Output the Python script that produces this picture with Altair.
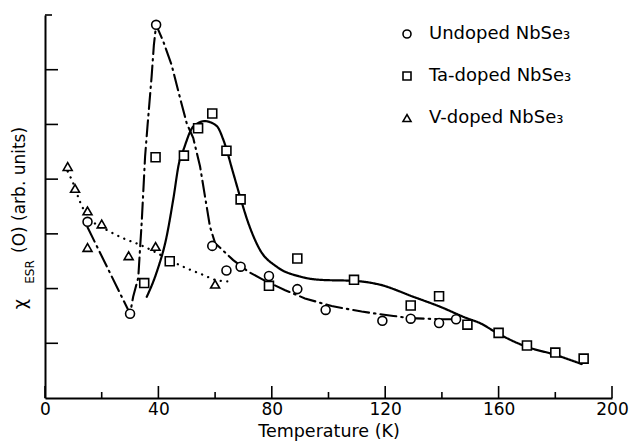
import altair as alt
import pandas as pd

FONT = "DejaVu Sans"

# Measured ESR susceptibility (arbitrary units) vs temperature (K)
undoped_T = [15, 30, 39.2, 59, 64, 69, 79, 89, 99, 119, 129, 139, 145]
undoped_X = [3.22, 1.54, 6.82, 2.78, 2.33, 2.40, 2.23, 1.99, 1.61, 1.41, 1.45, 1.37, 1.44]

ta_T = [35, 39, 44, 49, 54, 59, 64, 69, 79, 89, 109, 129, 139, 149, 160, 170, 180, 190]
ta_X = [2.10, 4.40, 2.50, 4.43, 4.93, 5.20, 4.52, 3.63, 2.05, 2.55, 2.16, 1.69, 1.86,
        1.34, 1.19, 0.96, 0.83, 0.72]

v_T = [8, 10.6, 15, 15, 20, 29.5, 39, 60]
v_X = [4.23, 3.83, 3.42, 2.75, 3.18, 2.60, 2.77, 2.08]

# Hand-drawn guide curves through each data set
undoped_fit_T = [15, 30, 31.1, 32.9, 33.5, 34.1, 34.7, 35.3, 36.2, 37.6, 38.4, 39.2,
                 41.7, 44.7, 47.6, 50, 52.3, 54.7, 58.2, 60, 66.4, 71.7, 77, 84.7,
                 91.7, 101.1, 111.7, 117, 122.9, 128.7, 139.3, 144.6]
undoped_fit_X = [3.12, 1.54, 1.85, 2.20, 2.71, 3.20, 3.80, 4.41, 5.00, 5.87, 6.45, 6.82,
                 6.52, 6.08, 5.49, 5.02, 4.75, 4.23, 3.13, 2.83, 2.52, 2.31, 2.16, 1.97,
                 1.82, 1.68, 1.58, 1.54, 1.50, 1.46, 1.44, 1.44]

ta_fit_T = [35.9, 39.4, 42.9, 45.3, 47.3, 48.8, 52.3, 56.4, 60.6, 62.9, 66.4, 68.8,
            71.7, 75.8, 81.7, 89.9, 97, 109.3, 118.2, 129.9, 139.3, 148.7, 153.4,
            159.7, 169.7, 179.9, 189.3]
ta_fit_X = [1.85, 2.30, 2.95, 3.65, 4.30, 4.53, 4.96, 5.06, 4.97, 4.72, 4.11, 3.68,
            3.20, 2.71, 2.40, 2.22, 2.16, 2.14, 2.07, 1.85, 1.67, 1.46, 1.37,
            1.18, 0.94, 0.79, 0.62]

v_fit_T = [8, 10, 12.3, 14.7, 17.6, 21.8, 27.6, 33.5, 38.8, 44, 50, 55.8, 60, 64.3]
v_fit_X = [4.14, 3.92, 3.59, 3.35, 3.19, 3.07, 2.92, 2.80, 2.67, 2.52, 2.37, 2.25, 2.16, 2.13]

series_names = ["Undoped NbSe₃", "Ta-doped NbSe₃", "V-doped NbSe₃"]
series_shapes = ["circle", "square", "triangle-up"]

# Axis tick positions
x_labels = [0, 40, 80, 120, 160, 200]
x_minor = [20, 60, 100, 140, 180]
y_major = [1, 2, 3, 4, 5, 6]
y_top = [7]

points = pd.concat([
    pd.DataFrame({"T": undoped_T, "X": undoped_X, "series": series_names[0]}),
    pd.DataFrame({"T": ta_T, "X": ta_X, "series": series_names[1]}),
    pd.DataFrame({"T": v_T, "X": v_X, "series": series_names[2]}),
])

x_scale = alt.Scale(domain=[0, 200], nice=False, zero=False)
y_scale = alt.Scale(domain=[0, 7], nice=False, zero=False)
shape_scale = alt.Scale(domain=series_names, range=series_shapes)

x_enc = alt.X("T:Q", scale=x_scale,
              axis=alt.Axis(values=x_labels, title="Temperature (K)", grid=False,
                            ticks=False, tickSize=0, labelPadding=3, labelFlush=False,
                            labelFont=FONT, labelFontSize=17, labelColor="black",
                            titleFont=FONT, titleFontSize=17.5, titleFontWeight="normal",
                            titleColor="black", titlePadding=5,
                            domainColor="black", domainWidth=2))
y_enc = alt.Y("X:Q", scale=y_scale,
              axis=alt.Axis(labels=False, ticks=False, grid=False, title=None,
                            domainColor="black", domainWidth=2))


def curve(T, X, dash, interp, width=2.0):
    df = pd.DataFrame({"T": T, "X": X})
    return alt.Chart(df).mark_line(
        color="black", strokeWidth=width, strokeDash=dash, interpolate=interp,
        strokeCap="round"
    ).encode(x=x_enc, y=y_enc)


undoped_line = curve(undoped_fit_T, undoped_fit_X, [16, 5, 1.5, 5], "linear", 2.1)
ta_line = curve(ta_fit_T, ta_fit_X, [1, 0], "monotone", 2.2)
v_line = curve(v_fit_T, v_fit_X, [0.1, 6.5], "monotone", 2.3)

# Inward-pointing tick marks
x_major_ticks = alt.Chart(pd.DataFrame({"T": x_labels})).mark_rule(
    color="black", strokeWidth=1.6
).encode(x=alt.X("T:Q", scale=x_scale), y=alt.value(383), y2=alt.value(371))
x_minor_ticks = alt.Chart(pd.DataFrame({"T": x_minor})).mark_rule(
    color="black", strokeWidth=1.6
).encode(x=alt.X("T:Q", scale=x_scale), y=alt.value(383), y2=alt.value(377))
y_major_ticks = alt.Chart(pd.DataFrame({"X": y_major})).mark_rule(
    color="black", strokeWidth=1.6
).encode(y=alt.Y("X:Q", scale=y_scale), x=alt.value(0), x2=alt.value(13))
y_top_tick = alt.Chart(pd.DataFrame({"X": y_top})).mark_rule(
    color="black", strokeWidth=1.6
).encode(y=alt.Y("X:Q", scale=y_scale), x=alt.value(0), x2=alt.value(7))

point_style = dict(filled=False, fill="white", fillOpacity=1, stroke="black",
                   strokeWidth=1.6, size=80, opacity=1)

markers = alt.Chart(points).mark_point(**point_style).encode(
    x=alt.X("T:Q", scale=x_scale),
    y=alt.Y("X:Q", scale=y_scale),
    shape=alt.Shape("series:N", scale=shape_scale, legend=None),
)

# Key in the upper right: one symbol + label per series, stacked
legend_layers = []
for i, name in enumerate(series_names):
    row = pd.DataFrame({"series": [name]})
    ky = 19 + 42 * i
    legend_layers.append(
        alt.Chart(row).mark_point(**{**point_style, "size": 64}).encode(
            x=alt.value(362), y=alt.value(ky),
            shape=alt.Shape("series:N", scale=shape_scale, legend=None),
        )
    )
    legend_layers.append(
        alt.Chart(row).mark_text(
            align="left", baseline="middle", font=FONT, fontSize=18, color="black"
        ).encode(x=alt.value(384), y=alt.value(ky), text="series:N")
    )

# Rotated y-axis title with subscript
y_title_main = alt.Chart(pd.DataFrame({"t": ["(O) (arb. units)"]})).mark_text(
    angle=270, align="left", baseline="middle", font=FONT, fontSize=17, color="black"
).encode(x=alt.value(-25), y=alt.value(238), text="t:N")
y_title_chi = alt.Chart(pd.DataFrame({"t": ["χ"]})).mark_text(
    angle=270, align="center", baseline="middle", font=FONT, fontSize=18, color="black"
).encode(x=alt.value(-24), y=alt.value(289), text="t:N")
y_title_sub = alt.Chart(pd.DataFrame({"t": ["ESR"]})).mark_text(
    angle=270, align="center", baseline="middle", font=FONT, fontSize=12, color="black"
).encode(x=alt.value(-15), y=alt.value(257), text="t:N")

chart = alt.layer(
    undoped_line, ta_line, v_line,
    x_major_ticks, x_minor_ticks, y_major_ticks, y_top_tick,
    markers, *legend_layers, y_title_main, y_title_chi, y_title_sub,
).properties(
    width=567, height=383,
    padding={"left": 45, "top": 15, "right": 21, "bottom": 45},
    autosize=alt.AutoSizeParams(type="none"),
    background="white",
).configure_view(strokeWidth=0)

chart.save("out.html", embed_options={"renderer": "svg", "actions": False})
